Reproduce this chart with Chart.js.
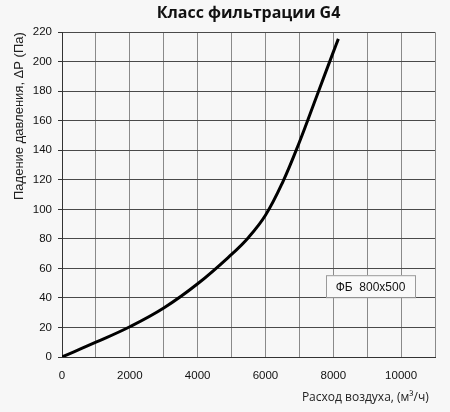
<!DOCTYPE html>
<html>
<head>
<meta charset="utf-8">
<script src="https://cdn.jsdelivr.net/npm/chart.js@4"></script>
<style>
  html, body { margin: 0; padding: 0; background: #f7f7f7; }
  #wrap { width: 450px; height: 412px; }
</style>
</head>
<body>
<div id="wrap"><canvas id="chart"></canvas></div>
<script>
// air flow, m3/h
var flow = [0, 1000, 2000, 3000, 4000, 5000, 5500, 6000, 6500, 7000, 7500, 8000, 8150];
// pressure drop, Pa
var pressure = [0, 10, 20.5, 33.2, 49.6, 69.5, 81, 96, 118, 145.5, 176, 206.5, 215.5];
var seriesName = 'ФБ  800x500';
var chartTitle = 'Класс фильтрации G4';
var xTitle = 'Расход воздуха, (м³/ч)  ';
var yTitle = 'Падение давления, ΔP (Па)';

// legend drawn as plain framed label inside the plot
var boxLegend = {
    id: 'boxLegend',
    afterDraw: function (chart) {
        var ctx = chart.ctx;
        var area = chart.chartArea;
        var w = 89, h = 22;
        var x = area.right - 109, y = area.top + 243;
        ctx.save();
        ctx.fillStyle = '#f9f9f9';
        ctx.strokeStyle = '#9a9a9a';
        ctx.lineWidth = 1;
        ctx.fillRect(x, y, w, h);
        ctx.strokeRect(x + 0.5, y + 0.5, w, h);
        ctx.fillStyle = '#111';
        ctx.font = '12px "Liberation Sans", Arial, sans-serif';
        ctx.textAlign = 'center';
        ctx.textBaseline = 'middle';
        ctx.fillText(chart.data.datasets[0].label, x + w / 2, y + h / 2 + 1);
        ctx.restore();
    }
};

var points = flow.map(function (v, i) { return { x: v, y: pressure[i] }; });

new Chart(document.getElementById('chart'), {
    type: 'line',
    data: {
        datasets: [{
            label: seriesName,
            data: points,
            borderColor: '#000',
            borderWidth: 3,
            pointRadius: 0,
            fill: false,
            tension: 0.4
        }]
    },
    options: {
        responsive: true,
        maintainAspectRatio: false,
        animation: false,
        layout: { padding: { left: 0, right: 15, top: 0, bottom: 0 } },
        plugins: {
            legend: { display: false },
            tooltip: { enabled: false },
            title: {
                display: true,
                fullSize: false,
                text: chartTitle,
                color: '#111',
                font: { family: '"Open Sans", sans-serif', size: 16, weight: 'bold' },
                padding: { top: 4, bottom: 9 }
            }
        },
        scales: {
            x: {
                type: 'linear',
                min: 0,
                max: 11000,
                afterFit: function (s) { s.height = 55; },
                ticks: {
                    stepSize: 1000,
                    maxRotation: 0,
                    autoSkip: false,
                    padding: 12,
                    color: '#111',
                    font: { family: '"Liberation Sans", Arial, sans-serif', size: 11.5 },
                    callback: function (v) { return v % 2000 === 0 ? v : ''; }
                },
                grid: { color: '#8a8a8a', lineWidth: 1, drawTicks: false },
                border: { color: '#333', width: 1 },
                title: {
                    display: true,
                    text: xTitle,
                    align: 'end',
                    color: '#222',
                    font: { family: '"Open Sans", sans-serif', size: 12 },
                    padding: { top: 0, bottom: 7 }
                }
            },
            y: {
                min: 0,
                max: 220,
                afterFit: function (s) { s.width = 62; },
                ticks: {
                    stepSize: 10,
                    padding: 6,
                    color: '#111',
                    font: { family: '"Liberation Sans", Arial, sans-serif', size: 11.5 },
                    callback: function (v) { return v % 20 === 0 ? v : ''; }
                },
                grid: {
                    color: '#4a4a4a',
                    lineWidth: 1,
                    tickLength: 4,
                    tickColor: function (c) { return c.tick && c.tick.value % 20 === 0 ? '#333' : 'rgba(0,0,0,0)'; }
                },
                border: { color: '#333', width: 1 },
                title: {
                    display: true,
                    text: yTitle,
                    align: 'end',
                    color: '#222',
                    font: { family: '"Liberation Sans", Arial, sans-serif', size: 13 },
                    padding: { top: 12, bottom: 0 }
                }
            }
        }
    },
    plugins: [boxLegend]
});
</script>
</body>
</html>
